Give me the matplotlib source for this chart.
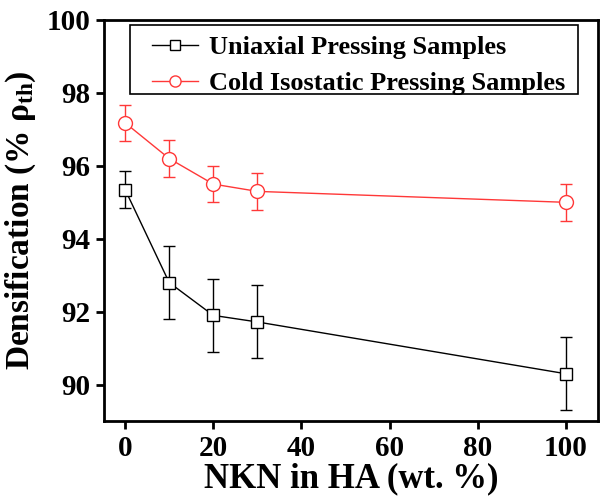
import matplotlib
matplotlib.use('Agg')
import matplotlib.pyplot as plt
from matplotlib.lines import Line2D
from matplotlib.patches import Rectangle

plt.rcParams['font.family'] = ['Liberation Serif', 'DejaVu Serif']
plt.rcParams['font.weight'] = 'bold'
plt.rcParams['mathtext.fontset'] = 'custom'
plt.rcParams['mathtext.rm'] = 'Liberation Serif:bold'
plt.rcParams['mathtext.it'] = 'Liberation Serif:bold'
plt.rcParams['mathtext.bf'] = 'Liberation Serif:bold'

# NKN content (wt. %)
nkn = [0, 10, 20, 30, 100]

# Uniaxial pressing
uni = [95.35, 92.8, 91.9, 91.72, 90.3]
uni_err = [0.5, 1.0, 1.0, 1.0, 1.0]

# Cold isostatic pressing
cip = [97.18, 96.2, 95.5, 95.3, 95.0]
cip_err = [0.5, 0.5, 0.5, 0.5, 0.5]

red = '#ff3838'

fig = plt.figure(figsize=(6.01, 4.99), dpi=100)
ax = fig.add_axes([0.173, 0.156, 0.822, 0.804])

ax.errorbar(nkn, uni, yerr=uni_err, color='black', lw=1, marker='s', ms=9,
            mfc='white', mec='black', mew=1, capsize=4, elinewidth=1)
ax.errorbar(nkn, cip, yerr=cip_err, color=red, lw=1, marker='o', ms=10,
            mfc='white', mec=red, mew=1, capsize=4, elinewidth=1)

ax.set_xlim(-4.8, 107.3)
ax.set_ylim(89, 100)
ax.set_xticks([0, 20, 40, 60, 80, 100])
ax.set_yticks([90, 92, 94, 96, 98, 100])

for s in ax.spines.values():
    s.set_linewidth(2)
ax.tick_params(direction='out', length=6, width=2, labelsize=21, pad=4)

ax.set_xlabel('NKN in HA (wt. %)', fontsize=25, fontweight='bold', labelpad=0)
ax.set_ylabel(r'Densification (% $\rho_{\mathrm{th}}$)', fontsize=24,
              fontweight='bold', labelpad=6)

# legend frame drawn separately (wide left padding in the original)
fig.add_artist(Rectangle((130 / 601, (499 - 94) / 499), 448 / 601, 69 / 499,
                         transform=fig.transFigure, facecolor='white',
                         edgecolor='black', lw=1.2, zorder=4))

handles = [
    Line2D([], [], color='black', lw=1, marker='s', ms=7, mfc='white', mec='black'),
    Line2D([], [], color=red, lw=1, marker='o', ms=8, mfc='white', mec=red),
]
labels = ['Uniaxial Pressing Samples', 'Cold Isostatic Pressing Samples']
leg = fig.legend(handles, labels, loc='upper left',
                 bbox_to_anchor=(152 / 601, (499 - 36) / 499),
                 fontsize=19, frameon=False, handlelength=1.75, borderpad=0,
                 labelspacing=0.45, handletextpad=0.4, borderaxespad=0)
leg.set_zorder(5)

fig.savefig('out.png', dpi=100)
